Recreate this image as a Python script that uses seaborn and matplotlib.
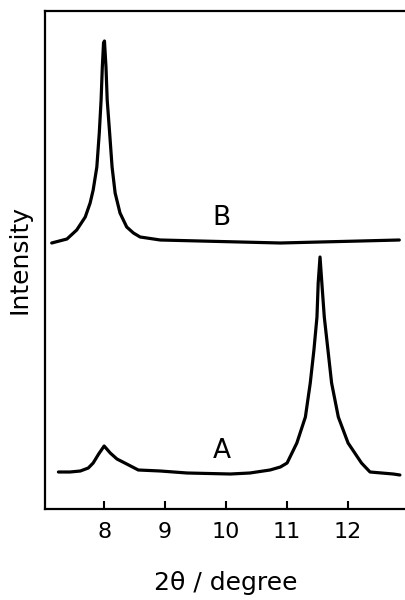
import matplotlib
matplotlib.use("Agg")
import matplotlib.pyplot as plt
import seaborn as sns
import pandas as pd

# Curve A (2theta, intensity in arbitrary units)
a_x = [7.25, 7.44, 7.61, 7.74, 7.82, 7.91, 8.00, 8.10, 8.21, 8.37, 8.56, 8.92,
       9.36, 10.07, 10.39, 10.72, 10.89, 11.00, 11.16, 11.30, 11.38, 11.44, 11.49,
       11.51, 11.54, 11.57, 11.61, 11.67, 11.73, 11.84, 12.00, 12.22, 12.36, 12.74,
       12.85]
a_y = [37, 37, 38, 41, 46, 55, 63, 56, 50, 45, 39, 38,
       36, 35, 36, 39, 42, 46, 66, 92, 126, 159, 192,
       226, 252, 226, 192, 159, 126, 92, 66, 46, 37, 35,
       34]

# Curve B
b_x = [7.14, 7.39, 7.55, 7.69, 7.77, 7.82, 7.88, 7.92, 7.95, 7.97, 7.99, 8.005,
       8.03, 8.05, 8.09, 8.13, 8.18, 8.26, 8.37, 8.48, 8.59, 8.92, 9.57, 10.23,
       10.89, 11.54, 12.20, 12.84]
b_y = [266, 270, 279, 292, 306, 319, 342, 376, 409, 442, 466, 468,
       442, 409, 376, 342, 316, 296, 282, 276, 272, 269, 268, 267,
       266, 267, 268, 269]

x_ticks = [8, 9, 10, 11, 12]
labels = ["A", "B"]

sns.set_style("ticks")
plt.rcParams['font.family'] = ['DejaVu Sans']
plt.rcParams['text.color'] = 'black'
plt.rcParams['axes.labelcolor'] = 'black'
plt.rcParams['xtick.color'] = 'black'

fig = plt.figure(figsize=(4.06, 6.0), dpi=100)
ax = fig.add_axes([45/406, 1 - 509/600, 1 - 45/406, (509 - 11)/600])

dfa = pd.DataFrame({"x": a_x, "y": a_y})
dfb = pd.DataFrame({"x": b_x, "y": b_y})
sns.lineplot(data=dfa, x="x", y="y", ax=ax, color="black", linewidth=2.3, sort=False)
sns.lineplot(data=dfb, x="x", y="y", ax=ax, color="black", linewidth=2.3, sort=False)

ax.set_xlim(7.03, 12.95)
ax.set_ylim(0, 498)
ax.set_xticks(x_ticks)
ax.set_xticklabels([str(t) for t in x_ticks], fontsize=16, color="black")
ax.set_yticks([])
ax.tick_params(axis="x", direction="in", length=6, width=1.5, pad=9, colors="black")
for s in ["left", "bottom", "top"]:
    ax.spines[s].set_linewidth(1.6)
    ax.spines[s].set_color("black")
ax.spines["right"].set_visible(False)

ax.set_xlabel("2θ / degree", fontsize=18, labelpad=21, color="black")
ax.set_ylabel("Intensity", fontsize=18, labelpad=10, color="black")

ax.text(9.93, 58, labels[0], fontsize=19, ha="center", va="center", color="black")
ax.text(9.93, 291, labels[1], fontsize=19, ha="center", va="center", color="black")

fig.savefig("out.png", dpi=100)
